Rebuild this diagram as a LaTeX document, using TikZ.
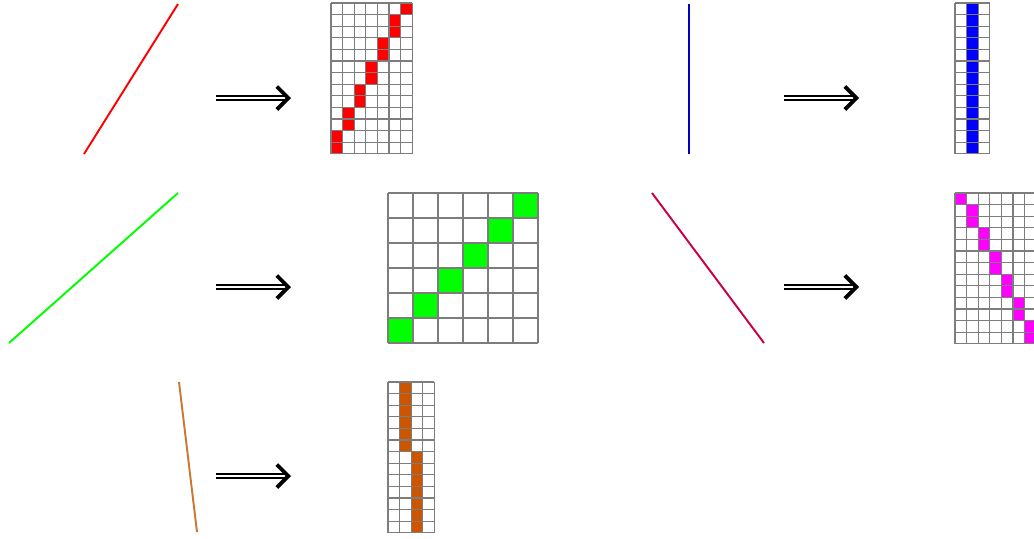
\documentclass[tikz,border=0pt]{standalone}
\usepackage{tikz}
\usetikzlibrary{positioning, calc, arrows.meta}

\definecolor{lineblue}{RGB}{0,0,200}
\definecolor{linecrimson}{RGB}{200,0,75}
\definecolor{linebrown}{RGB}{200,120,50}
\definecolor{cellred}{RGB}{255,0,0}
\definecolor{cellblue}{RGB}{0,0,255}
\definecolor{cellgreen}{RGB}{0,255,0}
\definecolor{cellmagenta}{RGB}{255,0,255}
\definecolor{cellbrown}{RGB}{204,85,0}
\definecolor{gridgray}{RGB}{125,125,125}

\tikzset{
  segline/.style={line width=1.1pt},
  gridline/.style={draw=gridgray, line width=0.7pt},
  implies/.style={double, double distance=1.6pt, line width=0.9pt,
    -{Straight Barb[length=6.5pt, width=13pt, line width=2.2pt]}}
}

% grid: origin x, origin y, cell size, columns, rows, colour, cells (col/row)
\newcommand{\pixgrid}[7]{%
  \foreach \c/\r in {#7}
    \fill[#6] ($(#1,#2)+(\c*#3,\r*#3)$) rectangle ++(#3,#3);
  \foreach \i in {0,...,#4}
    \draw[gridline] ($(#1,#2)+(\i*#3,0)$) -- ++(0,#5*#3);
  \foreach \j in {0,...,#5}
    \draw[gridline] ($(#1,#2)+(0,\j*#3)$) -- ++(#4*#3,0);
}

\begin{document}
\begin{tikzpicture}[x=0.02cm, y=-0.02cm]
  \useasboundingbox (0,0) rectangle (1034,538);

  % segments
  \draw[segline, red] (84,154) -- (178,4);
  \draw[segline, lineblue] (689,4) -- (689,154);
  \draw[segline, green] (9,343) -- (178,193);
  \draw[segline, linecrimson] (652,193) -- (764,343);
  \draw[segline, linebrown] (179,382) -- (197,532);

  % arrows
  \coordinate (arrAs) at (216,98);  \coordinate (arrAe) at (291,98);
  \coordinate (arrBs) at (784,98);  \coordinate (arrBe) at (859,98);
  \coordinate (arrCs) at (216,287); \coordinate (arrCe) at (291,287);
  \coordinate (arrDs) at (784,287); \coordinate (arrDe) at (859,287);
  \coordinate (arrEs) at (216,476); \coordinate (arrEe) at (291,476);
  \foreach \a in {A,B,C,D,E}
    \draw[implies] (arr\a s) -- (arr\a e);

  % rasterised grids
  \pixgrid{331}{3}{11.6}{7}{13}{cellred}{6/0,5/1,5/2,4/3,4/4,3/5,3/6,2/7,2/8,1/9,1/10,0/11,0/12}
  \pixgrid{955}{3}{11.6}{3}{13}{cellblue}{1/0,1/1,1/2,1/3,1/4,1/5,1/6,1/7,1/8,1/9,1/10,1/11,1/12}
  \begin{scope}[gridline/.append style={line width=1.2pt}]
    \pixgrid{388}{193}{25}{6}{6}{cellgreen}{5/0,4/1,3/2,2/3,1/4,0/5}
  \end{scope}
  \pixgrid{955}{193}{11.6}{7}{13}{cellmagenta}{0/0,1/1,1/2,2/3,2/4,3/5,3/6,4/7,4/8,5/9,5/10,6/11,6/12}
  \pixgrid{388}{382}{11.6}{4}{13}{cellbrown}{1/0,1/1,1/2,1/3,1/4,1/5,2/6,2/7,2/8,2/9,2/10,2/11,2/12}
\end{tikzpicture}
\end{document}
